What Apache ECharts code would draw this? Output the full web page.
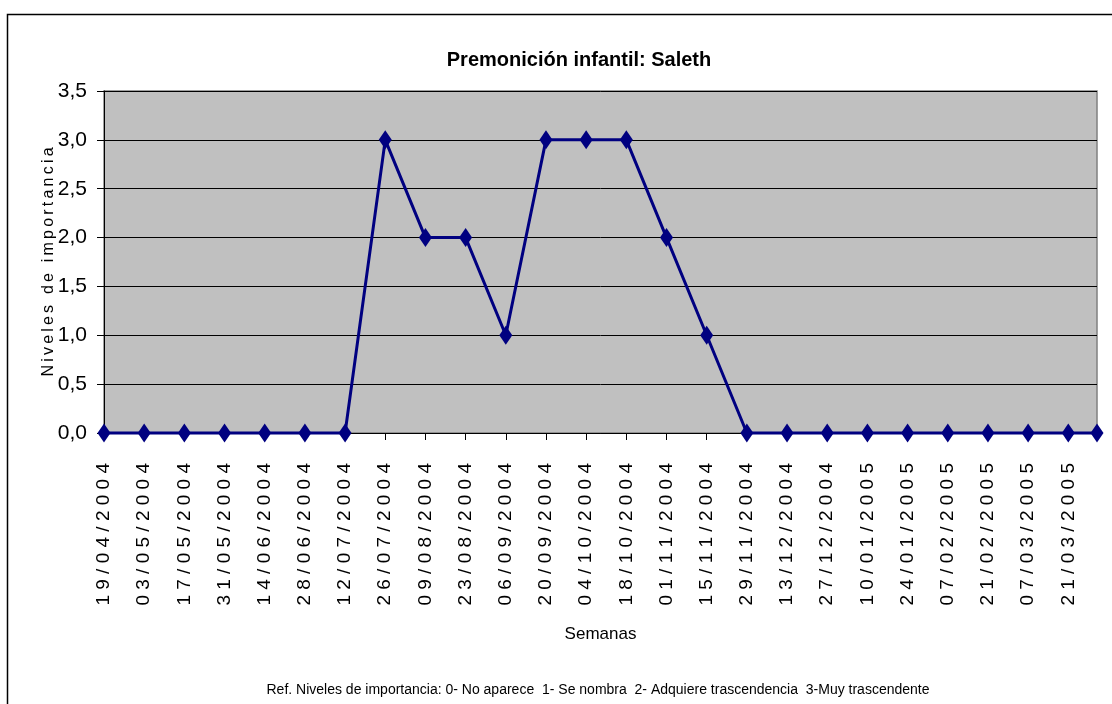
<!DOCTYPE html>
<html>
<head>
<meta charset="utf-8">
<script src="https://cdn.jsdelivr.net/npm/echarts@6/dist/echarts.min.js"></script>
<style>
html,body{margin:0;padding:0;background:#fff;}
#chart{width:1112px;height:704px;}
</style>
</head>
<body>
<div id="chart"></div>
<script>
// Data
var dates = ['19/04/2004','03/05/2004','17/05/2004','31/05/2004','14/06/2004','28/06/2004','12/07/2004',
  '26/07/2004','09/08/2004','23/08/2004','06/09/2004','20/09/2004','04/10/2004','18/10/2004',
  '01/11/2004','15/11/2004','29/11/2004','13/12/2004','27/12/2004','10/01/2005','24/01/2005',
  '07/02/2005','21/02/2005','07/03/2005','21/03/2005','31/03/2005'];
var niveles = [0,0,0,0,0,0,0,3,2,2,1,3,3,3,2,1,0,0,0,0,0,0,0,0,0,0];
var yTicks = [0,0.5,1,1.5,2,2.5,3,3.5];
var titleText = 'Premonición infantil: Saleth';
var xName = 'Semanas';
var yName = 'Niveles de importancia';
var footnote = 'Ref. Niveles de importancia: 0- No aparece  1- Se nombra  2- Adquiere trascendencia  3-Muy trascendente';

var DAY = 86400000;
function parseD(s){var p=s.split('/');return Date.UTC(+p[2],+p[1]-1,+p[0]);}
var t0 = parseD(dates[0]);
function offs(s){return Math.round((parseD(s)-t0)/DAY);}
function fmtDay(v){
  var d = new Date(t0 + v*DAY);
  var dd=('0'+d.getUTCDate()).slice(-2), mm=('0'+(d.getUTCMonth()+1)).slice(-2);
  return dd+'/'+mm+'/'+d.getUTCFullYear();
}
function spaced(s,sep){return s.split('').join(sep);}
var seriesData = dates.map(function(d,i){return [offs(d), niveles[i]];});
var lastOff = offs(dates[dates.length-1]);

var FONT = '"Liberation Sans Narrow","Arial Narrow","Liberation Sans",Arial,sans-serif';
var chart = echarts.init(document.getElementById('chart'));
chart.setOption({
  animation:false,
  backgroundColor:'#fff',
  title:{text:titleText,left:574,top:45,textAlign:'center',
    textStyle:{fontFamily:FONT,fontWeight:'bold',fontSize:20,color:'#000'}},
  graphic:[
    {type:'rect',shape:{x:7.5,y:14.5,width:1200,height:800},style:{fill:'none',stroke:'#000',lineWidth:1.5},z:-1},
    {type:'rect',shape:{x:104,y:91,width:993,height:342},style:{fill:'#C0C0C0',stroke:'#808080',lineWidth:1.5},z:-1},
    {type:'text',x:598,y:683,style:{text:footnote,font:'14px '+FONT,fill:'#000',textAlign:'center'}}
  ],
  grid:{left:104,top:91,right:15,bottom:271,containLabel:false},
  xAxis:{type:'value',min:0,max:lastOff,interval:14,
    name:xName,nameLocation:'middle',nameGap:193,nameMoveOverlap:false,
    nameTextStyle:{fontFamily:FONT,fontSize:17,color:'#000'},
    axisLine:{lineStyle:{color:'#000',width:1}},
    axisTick:{show:true,length:7,lineStyle:{color:'#000'}},
    splitLine:{show:false},
    axisLabel:{rotate:90,margin:30,fontFamily:FONT,fontSize:19,color:'#000',showMaxLabel:false,
      formatter:function(v){return (v%14===0 && v<lastOff)?spaced(fmtDay(v),' '):'';}}
  },
  yAxis:{type:'value',min:yTicks[0],max:yTicks[yTicks.length-1],interval:0.5,
    name:spaced(yName,'\u2009'),nameLocation:'middle',nameGap:47,nameRotate:90,nameMoveOverlap:false,
    nameTextStyle:{fontFamily:FONT,fontSize:16,color:'#000'},
    axisLine:{show:true,lineStyle:{color:'#000'}},
    axisTick:{show:true,length:7,lineStyle:{color:'#000'}},
    splitLine:{show:true,lineStyle:{color:'#000',width:1}},
    axisLabel:{margin:17,fontFamily:FONT,fontSize:21,color:'#000',
      formatter:function(v){return v.toFixed(1).replace('.',',');}}
  },
  series:[{type:'line',data:seriesData,
    lineStyle:{color:'#000080',width:3},
    itemStyle:{color:'#000080'},
    symbol:'diamond',symbolSize:[13,19],showSymbol:true,clip:false,z:5}]
});
</script>
</body>
</html>
